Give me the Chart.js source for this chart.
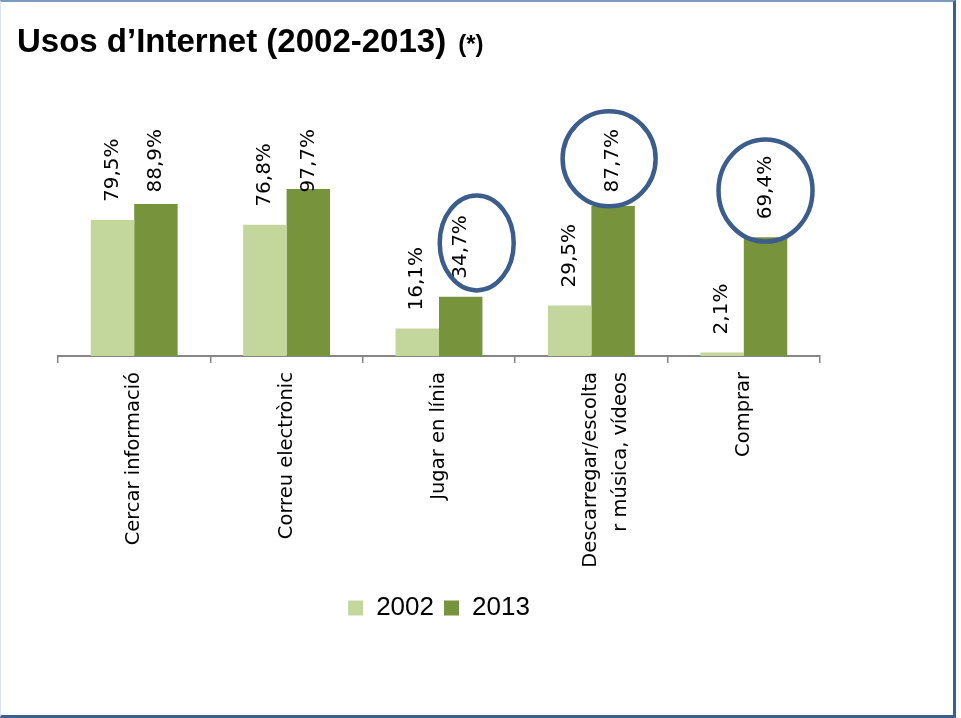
<!DOCTYPE html>
<html>
<head>
<meta charset="utf-8">
<script src="https://cdn.jsdelivr.net/npm/chart.js@4.4.0/dist/chart.umd.min.js"></script>
<style>
  html, body { margin: 0; padding: 0; background: #ffffff; }
  #frame {
    position: absolute; left: 0; top: 0; width: 956px; height: 718px;
    box-sizing: border-box;
    border-top: 2px solid #7d99bd; border-left: 1px solid #dfe4ea;
    border-right: 3px solid #3b5f8f; border-bottom: 3px solid #3b5f8f;
    pointer-events: none;
  }
  #c { position: absolute; left: 0; top: 0; }
</style>
</head>
<body>
<canvas id="c" width="950" height="712"></canvas>
<div id="frame"></div>
<script>
// ---- data ----
const titleText = "Usos d\u2019Internet (2002-2013)";
const titleNote = "(*)";
const categories = [
  "Cercar informació",
  "Correu electrònic",
  "Jugar en línia",
  ["Descarregar/escolta", "r música, vídeos"],
  "Comprar"
];
const seriesNames = ["2002", "2013"];
const values2002 = [79.5, 76.8, 16.1, 29.5, 2.1];
const values2013 = [88.9, 97.7, 34.7, 87.7, 69.4];
// highlighted (circled) labels: [datasetIndex, categoryIndex]
const highlighted = [[1, 2], [1, 3], [1, 4]];

// ---- styles ----
const colors = ["#C3D69B", "#77933C"];
const circleStyle = [
  { dx: 16, dy: -4, rx: 37, ry: 47.5 },
  { dx: -4, dy: -2, rx: 46.5, ry: 47.5 },
  { dx: 0, dy: 3, rx: 47, ry: 51 }
];

const fmt = v => v.toFixed(1).replace('.', ',') + '%';

const labelPlugin = {
  id: 'valueLabels',
  afterDatasetsDraw(chart) {
    const ctx = chart.ctx;
    const area = chart.chartArea;
    const topLimit = area.top - 56;
    ctx.save();
    ctx.font = '20px "DejaVu Sans"';
    ctx.fillStyle = '#000';
    const centers = {};
    chart.data.datasets.forEach((ds, di) => {
      const meta = chart.getDatasetMeta(di);
      meta.data.forEach((bar, i) => {
        const txt = fmt(ds.data[i]);
        const len = ctx.measureText(txt).width;
        let endY = bar.y - 18;
        if (endY - len < topLimit) endY = topLimit + len;
        ctx.save();
        ctx.translate(bar.x, endY);
        ctx.rotate(-Math.PI / 2);
        ctx.textAlign = 'left';
        ctx.textBaseline = 'middle';
        ctx.fillText(txt, 0, 0);
        ctx.restore();
        centers[di + '_' + i] = { x: bar.x, y: endY - len / 2 };
      });
    });
    ctx.strokeStyle = '#3c5d8c';
    ctx.lineWidth = 4.5;
    highlighted.forEach((h, k) => {
      const c = centers[h[0] + '_' + h[1]];
      const s = circleStyle[k];
      ctx.beginPath();
      ctx.ellipse(c.x + s.dx, c.y + s.dy, s.rx, s.ry, 0, 0, Math.PI * 2);
      ctx.stroke();
    });
    ctx.restore();
  }
};

const titlePlugin = {
  id: 'mixedTitle',
  afterDraw(chart) {
    const ctx = chart.ctx;
    ctx.save();
    ctx.fillStyle = '#000';
    ctx.textBaseline = 'alphabetic';
    ctx.textAlign = 'left';
    ctx.font = 'bold 33px "Liberation Sans Narrow", "Liberation Sans", sans-serif';
    ctx.fillText(titleText, 17, 52);
    const w = ctx.measureText(titleText).width;
    ctx.font = 'bold 24px "Liberation Sans Narrow", "Liberation Sans", sans-serif';
    ctx.fillText(titleNote, 17 + w + 12, 52);
    ctx.restore();
  }
};

new Chart(document.getElementById('c'), {
  type: 'bar',
  data: {
    labels: categories,
    datasets: [
      { label: seriesNames[0], data: values2002, backgroundColor: colors[0] },
      { label: seriesNames[1], data: values2013, backgroundColor: colors[1] }
    ]
  },
  options: {
    responsive: false,
    devicePixelRatio: 1,
    animation: false,
    layout: { padding: { left: 58, right: 130, top: 185, bottom: 81 } },
    datasets: { bar: { categoryPercentage: 0.57, barPercentage: 1.0 } },
    scales: {
      y: { display: false, min: 0, max: 100 },
      x: {
        afterFit: s => { s.height = 229; },
        grid: { display: true, drawOnChartArea: false, drawTicks: true, tickLength: 7, color: '#868686', lineWidth: 1.5, offset: true },
        border: { display: true, color: '#868686', width: 2 },
        ticks: {
          autoSkip: false, maxRotation: 90, minRotation: 90, padding: 9,
          color: '#000',
          font: { family: '"DejaVu Sans"', size: 19.5, lineHeight: 1.54 }
        }
      }
    },
    plugins: {
      legend: {
        position: 'bottom',
        labels: {
          boxWidth: 15, boxHeight: 15, padding: 10, color: '#000',
          font: { family: '"Liberation Sans Narrow", "Liberation Sans", sans-serif', size: 26 }
        }
      },
      title: { display: false },
      tooltip: { enabled: false }
    }
  },
  plugins: [labelPlugin, titlePlugin]
});
</script>
</body>
</html>
